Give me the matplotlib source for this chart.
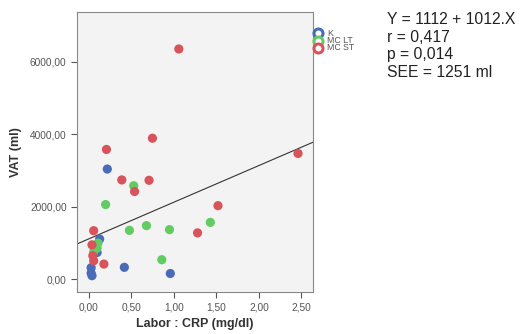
import numpy as np
import matplotlib.pyplot as plt

plt.rcParams['font.family'] = ['Liberation Sans', 'DejaVu Sans']

# CRP (mg/dl) and VAT (ml) per group
k_crp = [0.22, 0.13, 0.42, 0.96, 0.03, 0.03, 0.04, 0.10]
k_vat = [3040, 1110, 330, 160, 320, 170, 100, 740]

mclt_crp = [0.53, 0.20, 0.48, 0.68, 0.95, 1.43, 0.86, 0.10, 0.11, 0.06]
mclt_vat = [2580, 2060, 1350, 1480, 1370, 1570, 540, 860, 1000, 760]

mcst_crp = [1.06, 0.75, 0.21, 0.39, 0.71, 0.54, 1.52, 2.46, 1.28, 0.06, 0.04, 0.05, 0.06, 0.18]
mcst_vat = [6350, 3890, 3580, 2740, 2730, 2420, 2030, 3470, 1280, 1340, 950, 650, 510, 420]

fit_a, fit_b = 1112, 1012
stats_lines = ['Y = 1112 + 1012.X', 'r = 0,417', 'p = 0,014', 'SEE = 1251 ml']
group_names = ['K', 'MC LT', 'MC ST']
group_colors = ['#4a6cb8', '#62cc62', '#d8545a']

x_ticks = [0, 0.5, 1.0, 1.5, 2.0, 2.5]
y_ticks = [0, 2000, 4000, 6000]

fig = plt.figure(figsize=(5.22, 3.34), dpi=100)
ax = fig.add_axes([0.1475, 0.1266, 0.4528, 0.8384])
ax.set_facecolor('#f3f3f3')

groups = [(k_crp, k_vat), (mclt_crp, mclt_vat), (mcst_crp, mcst_vat)]
for (xs, ys), c in zip(groups, group_colors):
    ax.scatter(xs, ys, s=44, color=c, edgecolors='none', zorder=3)

xl = np.array([-0.136, 2.64])
ax.plot(xl, fit_a + fit_b * xl, color='#333333', lw=0.8, zorder=2)

ax.set_xlim(-0.136, 2.64)
ax.set_ylim(-342, 7378)
ax.set_xticks(x_ticks)
ax.set_xticklabels([('%.2f' % v).replace('.', ',') for v in x_ticks])
ax.set_yticks(y_ticks)
ax.set_yticklabels([('%.2f' % v).replace('.', ',') for v in y_ticks])
ax.tick_params(direction='out', length=4, width=0.8, labelsize=7.3,
               labelcolor='#555555', color='#555555')
for sp in ax.spines.values():
    sp.set_color('#888888')
    sp.set_linewidth(0.8)

ax.set_xlabel('Labor : CRP (mg/dl)', fontsize=9, fontweight='bold', color='#333333', labelpad=4)
ax.set_ylabel('VAT (ml)', fontsize=9, fontweight='bold', color='#333333', labelpad=6)

# legend (open circles overlapping the right frame)
for i, (name, c) in enumerate(zip(group_names, group_colors)):
    yy = 1 - (33 + 7.5 * i) / 334
    fig.lines.append(plt.Line2D([318 / 522], [yy], transform=fig.transFigure,
                                marker='o', ms=6.5, mfc='white', mec=c, mew=2.2, ls='none'))
    fig.text(327 / 522, yy, name, fontsize=6.3, color='#555555', va='center', ha='left')

for i, line in enumerate(stats_lines):
    fig.text(387 / 522, 1 - (20 + 17.5 * i) / 334, line, fontsize=11.3,
             color='#222222', va='center', ha='left')

fig.savefig('out.png', dpi=100, facecolor='white')
